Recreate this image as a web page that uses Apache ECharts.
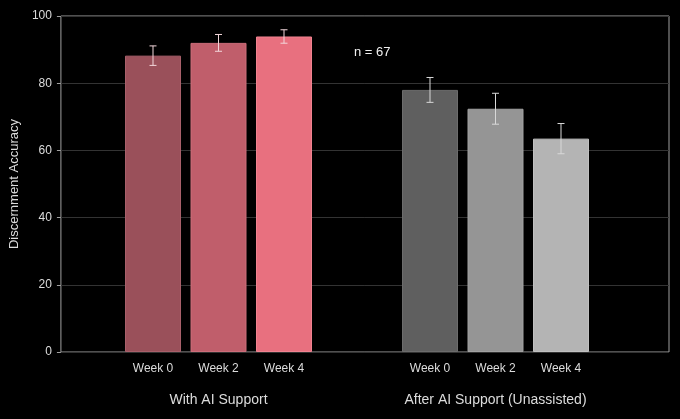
<!DOCTYPE html>
<html>
<head>
<meta charset="utf-8">
<script src="https://cdn.jsdelivr.net/npm/echarts@6/dist/echarts.min.js"></script>
<style>
  html, body { margin: 0; padding: 0; background: #000; }
  #chart { width: 680px; height: 419px; }
</style>
</head>
<body>
<div id="chart"></div>
<script>
// values
var weeks = ['Week 0', 'Week 2', 'Week 4'];
var groupNames = ['With AI Support', 'After AI Support (Unassisted)'];
var withAI = [88.2, 92.0, 93.9];
var withAIErr = [2.9, 2.5, 2.0];
var afterAI = [78.0, 72.4, 63.5];
var afterAIErr = [3.7, 4.6, 4.5];
var yTicks = [0, 20, 40, 60, 80, 100];
var note = 'n = 67';

var pinkColors = ['#9a505a', '#c05e6b', '#e8707f'];
var pinkBorders = ['#a8606a', '#cc6e7a', '#f08390'];
var greyColors = ['#5f5f5f', '#959595', '#b4b4b4'];
var greyBorders = ['#6c6c6c', '#a2a2a2', '#c0c0c0'];

var font = 'Liberation Sans, Arial, sans-serif';
var textColor = '#dcdcdc';

function barData(vals, colors, borders) {
    var out = [];
    for (let i = 0; i < vals.length; i++) {
        out.push({
            value: vals[i],
            itemStyle: { color: colors[i], borderColor: borders[i], borderWidth: 1 }
        });
    }
    return out;
}

function errData(vals, errs) {
    var out = [];
    for (let i = 0; i < vals.length; i++) {
        out.push([i, vals[i] - errs[i], vals[i] + errs[i]]);
    }
    return out;
}

function errRender(color) {
    return function (params, api) {
        var lo = api.coord([api.value(0), api.value(1)]);
        var hi = api.coord([api.value(0), api.value(2)]);
        var cap = 3.5;
        var st = { stroke: color, lineWidth: 1 };
        return {
            type: 'group',
            children: [
                { type: 'line', shape: { x1: lo[0], y1: lo[1], x2: hi[0], y2: hi[1] }, style: st },
                { type: 'line', shape: { x1: lo[0] - cap, y1: lo[1], x2: lo[0] + cap, y2: lo[1] }, style: st },
                { type: 'line', shape: { x1: hi[0] - cap, y1: hi[1], x2: hi[0] + cap, y2: hi[1] }, style: st }
            ]
        };
    };
}

var plotTop = 16, plotBottom = 67;
var slot = 65.5;

function groupAxis(idx, name) {
    return {
        type: 'category',
        gridIndex: idx,
        data: weeks,
        axisLine: { show: false },
        axisTick: { show: false },
        axisLabel: { color: textColor, fontSize: 12, fontFamily: font, margin: 11 },
        name: name,
        nameLocation: 'middle',
        nameGap: 41,
        nameTextStyle: { color: textColor, fontSize: 14, fontFamily: font }
    };
}

function hiddenY(idx) {
    return {
        type: 'value', gridIndex: idx, min: 0, max: 100, interval: 20,
        axisLine: { show: false }, axisTick: { show: false },
        axisLabel: { show: false }, splitLine: { show: false }
    };
}

var option = {
    backgroundColor: '#000',
    animation: false,
    grid: [
        { left: 57, right: 11, top: plotTop, bottom: plotBottom, show: true,
          borderColor: '#a0a0a0', borderWidth: 1, backgroundColor: 'transparent' },
        { left: 153 - slot / 2, width: slot * 3, top: plotTop, bottom: plotBottom },
        { left: 430 - slot / 2, width: slot * 3, top: plotTop, bottom: plotBottom }
    ],
    xAxis: [
        { type: 'value', gridIndex: 0, min: 0, max: 1, show: false },
        groupAxis(1, groupNames[0]),
        groupAxis(2, groupNames[1])
    ],
    yAxis: [
        {
            type: 'value', gridIndex: 0, min: yTicks[0], max: yTicks[yTicks.length - 1], interval: 20,
            name: 'Discernment Accuracy',
            nameLocation: 'middle',
            nameGap: 38,
            nameTextStyle: { color: textColor, fontSize: 13, fontFamily: font },
            axisLine: { show: false },
            axisTick: { show: true, inside: false, length: 4, lineStyle: { color: '#a0a0a0' } },
            axisLabel: { color: textColor, fontSize: 12, fontFamily: font, margin: 9 },
            splitLine: { show: true, lineStyle: { color: '#333333', width: 1 } }
        },
        hiddenY(1),
        hiddenY(2)
    ],
    graphic: [
        { type: 'text', left: 354, top: 46,
          style: { text: note, fill: '#f0f0f0', fontSize: 13, fontFamily: font } }
    ],
    series: [
        { type: 'bar', xAxisIndex: 1, yAxisIndex: 1, barWidth: 56,
          data: barData(withAI, pinkColors, pinkBorders) },
        { type: 'bar', xAxisIndex: 2, yAxisIndex: 2, barWidth: 56,
          data: barData(afterAI, greyColors, greyBorders) },
        { type: 'custom', xAxisIndex: 1, yAxisIndex: 1, z: 5,
          renderItem: errRender('#f2d6da'), data: errData(withAI, withAIErr) },
        { type: 'custom', xAxisIndex: 2, yAxisIndex: 2, z: 5,
          renderItem: errRender('#d8d8d8'), data: errData(afterAI, afterAIErr) }
    ]
};

var myChart = echarts.init(document.getElementById('chart'));
myChart.setOption(option);
</script>
</body>
</html>
